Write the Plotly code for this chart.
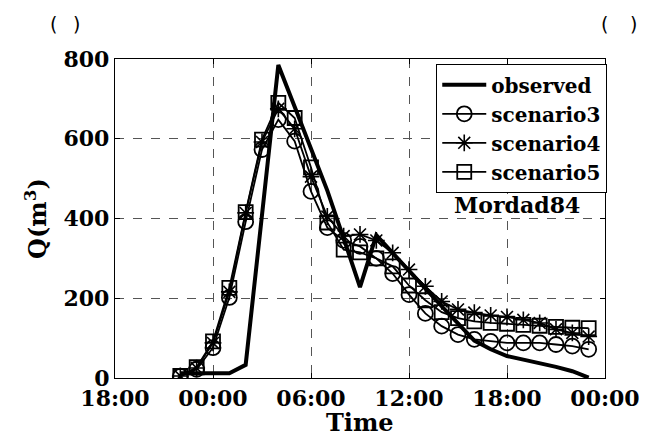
import plotly.graph_objects as go

times = [
    "2005-08-10 22:00", "2005-08-10 23:00",
    "2005-08-11 00:00", "2005-08-11 01:00", "2005-08-11 02:00", "2005-08-11 03:00",
    "2005-08-11 04:00", "2005-08-11 05:00", "2005-08-11 06:00", "2005-08-11 07:00",
    "2005-08-11 08:00", "2005-08-11 09:00", "2005-08-11 10:00", "2005-08-11 11:00",
    "2005-08-11 12:00", "2005-08-11 13:00", "2005-08-11 14:00", "2005-08-11 15:00",
    "2005-08-11 16:00", "2005-08-11 17:00", "2005-08-11 18:00", "2005-08-11 19:00",
    "2005-08-11 20:00", "2005-08-11 21:00", "2005-08-11 22:00", "2005-08-11 23:00",
]

observed = [12, 12, 12, 12, 33, 410, 785, 680, 575, 470, 350, 228, 358, 313,
            268, 224, 180, 137, 94, 72, 55, 46, 38, 28, 17, 1]
scenario3 = [4, 22, 76, 202, 392, 573, 648, 594, 468, 377, 345, 330, 300, 262,
             209, 162, 130, 109, 97, 92, 88, 88, 88, 84, 80, 72]
scenario4 = [5, 25, 88, 216, 414, 592, 675, 625, 505, 405, 356, 360, 345, 314,
             272, 230, 192, 172, 164, 157, 153, 146, 138, 122, 113, 104]
scenario5 = [5, 27, 92, 226, 416, 598, 690, 652, 528, 390, 322, 315, 300, 280,
             232, 195, 165, 150, 142, 138, 136, 133, 131, 128, 126, 125]

y_ticks = [0, 200, 400, 600, 800]
x_range = ["2005-08-10 18:00", "2005-08-12 00:00"]

FONT = "DejaVu Serif"

fig = go.Figure()
fig.add_trace(go.Scatter(x=times, y=observed, mode="lines", name="<b>observed</b>",
                         line=dict(color="black", width=4)))
fig.add_trace(go.Scatter(x=times, y=scenario3, mode="lines+markers", name="<b>scenario3</b>",
                         line=dict(color="black", width=1.8),
                         marker=dict(symbol="circle-open", size=15, color="black",
                                     line=dict(width=1.8, color="black"))))
fig.add_trace(go.Scatter(x=times, y=scenario4, mode="lines+markers", name="<b>scenario4</b>",
                         line=dict(color="black", width=1.8),
                         marker=dict(symbol="asterisk-open", size=14, color="black",
                                     line=dict(width=1.6, color="black"))))
fig.add_trace(go.Scatter(x=times, y=scenario5, mode="lines+markers", name="<b>scenario5</b>",
                         line=dict(color="black", width=1.8),
                         marker=dict(symbol="square-open", size=14, color="black",
                                     line=dict(width=1.8, color="black"))))

axis_common = dict(showline=True, linecolor="black", linewidth=1.3, mirror="allticks",
                   ticks="inside", ticklen=5, tickcolor="black",
                   showgrid=True, gridcolor="#555555", griddash="dash", gridwidth=1,
                   zeroline=False,
                   tickfont=dict(family=FONT, size=22, color="black", weight="bold"))

fig.update_xaxes(type="date", range=x_range, tick0=x_range[0], dtick=6 * 3600 * 1000,
                 tickformat="%H:%M", **axis_common)
fig.update_yaxes(range=[0, 800], tickvals=y_ticks, **axis_common)

ml, mr, mt, mb = 115, 35, 59, 65
pw, ph = 652 - ml - mr, 443 - mt - mb


def px(x):
    return (x - ml) / pw


def py(y):
    return (443 - mb - y) / ph


fig.update_layout(
    width=652, height=443,
    margin=dict(l=ml, r=mr, t=mt, b=mb),
    plot_bgcolor="white", paper_bgcolor="white",
    font=dict(family=FONT, color="black"),
    legend=dict(x=px(619), y=py(64), xanchor="right", yanchor="top",
                bgcolor="white", bordercolor="black", borderwidth=1.3,
                font=dict(family=FONT, size=20, color="black"),
                tracegroupgap=0, itemwidth=44),
)

# axis titles
fig.add_annotation(text="<b>Time</b>", x=px(366), y=py(422), xref="paper", yref="paper",
                   xanchor="center", yanchor="middle", showarrow=False,
                   font=dict(family=FONT, size=24, color="black"))
fig.add_annotation(text="<b>Q(m<sup>3</sup>)</b>", x=px(34), y=py(218), xref="paper", yref="paper",
                   xanchor="center", yanchor="middle", showarrow=False, textangle=-90,
                   font=dict(family=FONT, size=24, color="black"))

fig.add_annotation(text="<b>Mordad84</b>", x=px(527), y=py(205), xref="paper", yref="paper",
                   xanchor="center", yanchor="middle",
                   showarrow=False, font=dict(family=FONT, size=22, color="black"))
for xpos, ch in [(52, "("), (76, ")"), (616, "("), (646, ")")]:
    fig.add_annotation(text=ch, x=px(xpos), y=py(24), xref="paper", yref="paper",
                       xanchor="center", yanchor="middle",
                       showarrow=False, font=dict(family="DejaVu Sans", size=19, color="black"))

fig.write_html("out.html", config={"displayModeBar": False},
               post_script="document.body.style.margin='0px';")
